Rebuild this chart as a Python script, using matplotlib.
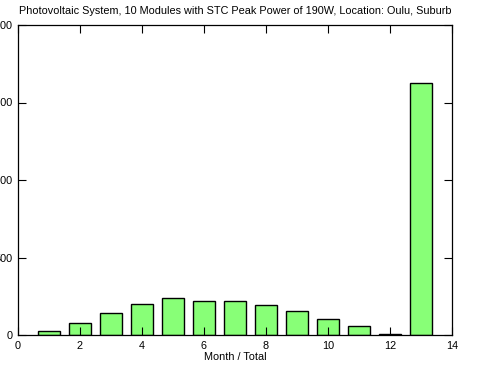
import numpy as np
import matplotlib
matplotlib.use("Agg")
import matplotlib.pyplot as plt

# monthly PV output (kWh), months 1-12 plus yearly total at 13
months = np.arange(1, 14)
energy = [24, 75, 140, 198, 237, 217, 217, 192, 153, 101, 56, 6, 1626]

x_ticks = [0, 2, 4, 6, 8, 10, 12, 14]
y_ticks = [0, 500, 1000, 1500, 2000]

plt.rcParams["font.family"] = ["Liberation Sans", "DejaVu Sans"]

fig = plt.figure(figsize=(4.85, 3.83), dpi=100)
ax = fig.add_axes([18 / 485, 48 / 383, 434 / 485, 310 / 383])

ax.bar(months, energy, width=0.7, color="#88ff77", edgecolor="black", linewidth=1.0)

ax.set_xlim(0, 14)
ax.set_ylim(0, 2000)
ax.set_xticks(x_ticks)
ax.set_yticks(y_ticks)
ax.tick_params(direction="in", length=5.5, width=0.8, top=True, right=True,
               labelsize=7.8, pad=4)
for s in ax.spines.values():
    s.set_linewidth(0.9)

ax.set_xlabel("Month / Total", fontsize=7.8, labelpad=1)
ax.set_title("Photovoltaic System, 10 Modules with STC Peak Power of 190W, Location: Oulu, Suburb",
             fontsize=7.8, pad=8)

fig.savefig("out.png", dpi=100)
